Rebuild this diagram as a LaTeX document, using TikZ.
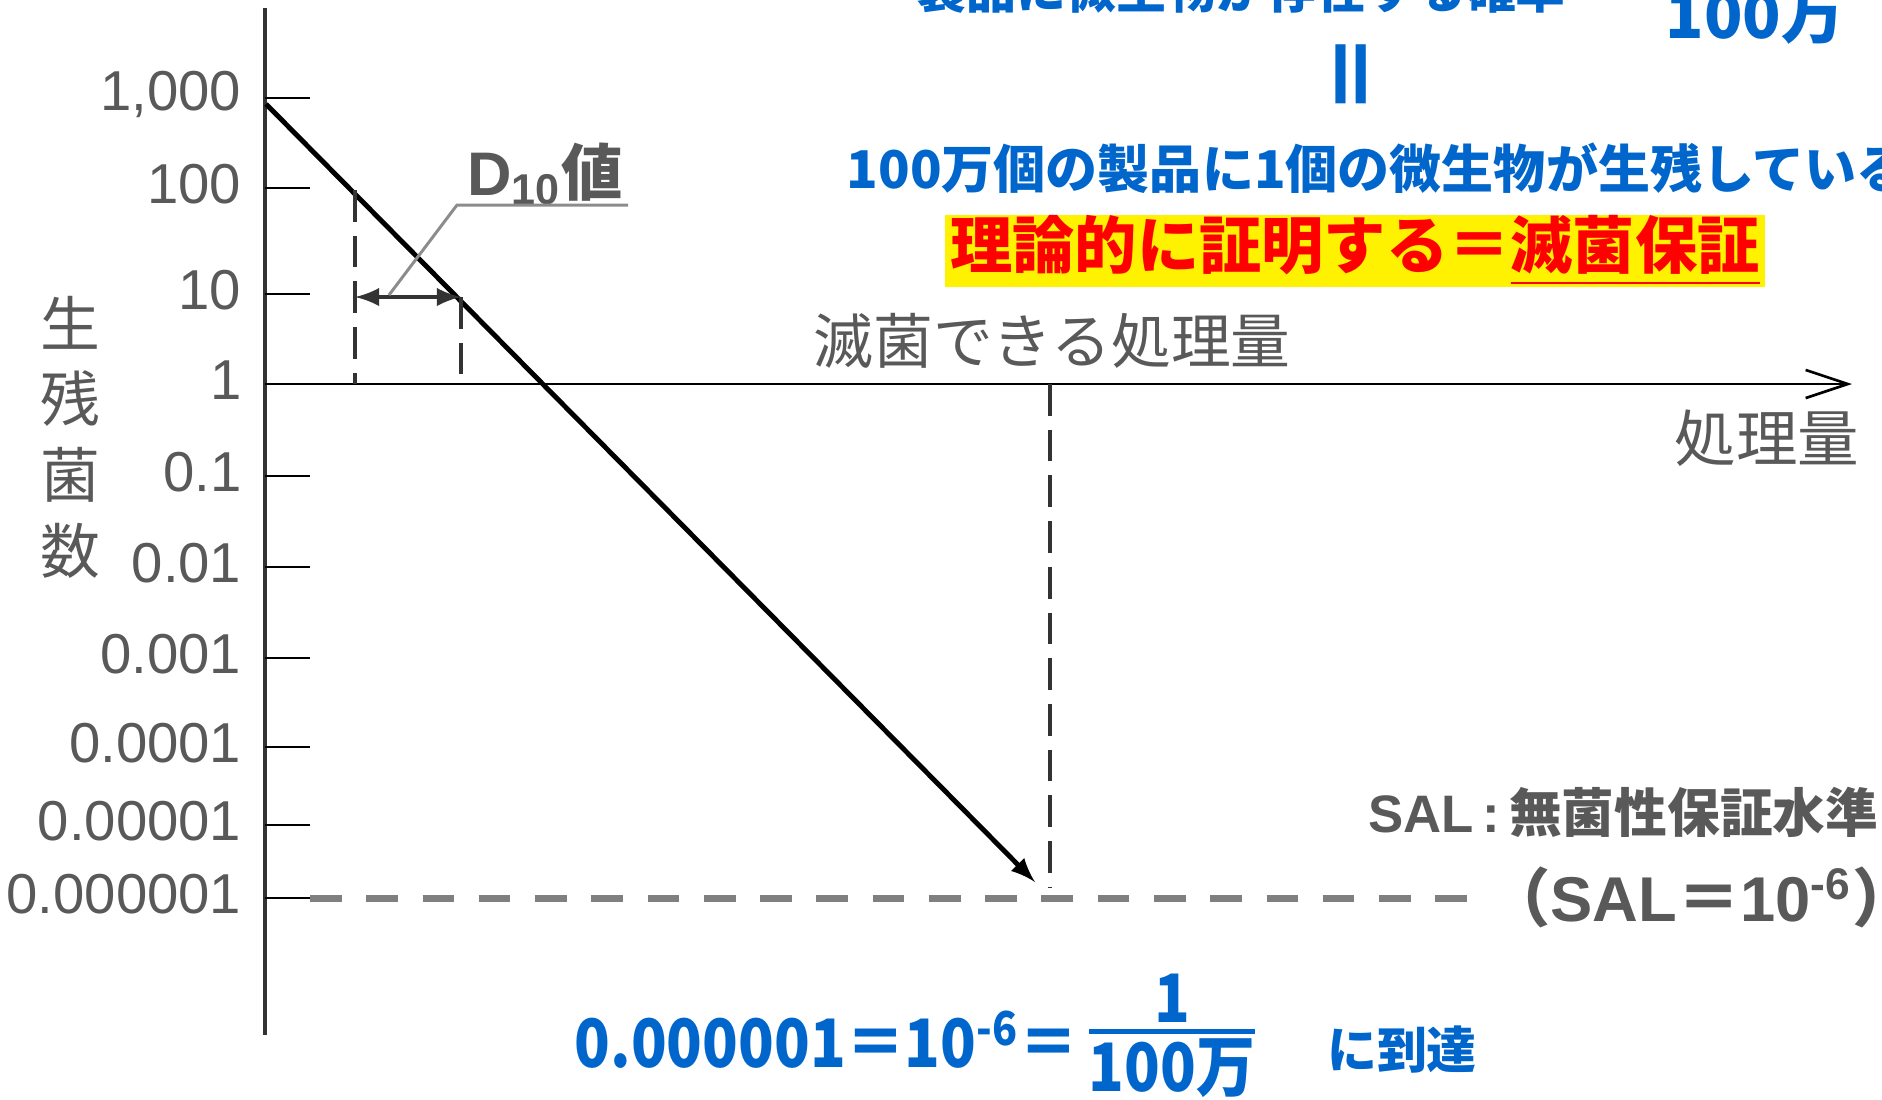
\documentclass[tikz,border=0pt]{standalone}
\usepackage{amsmath}
\usepackage{fontspec}
\setmainfont{Liberation Sans}
\newfontfamily\jpfont{Noto Sans CJK JP}
\newfontfamily\jpcond{Noto Sans CJK JP}[FakeStretch=0.88]
\usepackage{tikz}
\usetikzlibrary{calc,arrows,arrows.meta}

\definecolor{txtgray}{HTML}{595959}
\definecolor{axisgray}{HTML}{333333}
\definecolor{salgray}{HTML}{7F7F7F}
\definecolor{leadgray}{HTML}{8C8C8C}
\definecolor{jpblue}{HTML}{0066CC}

\tikzset{
    ticklab/.style={anchor=east,inner sep=0pt,text=txtgray,font=\fontsize{16pt}{18pt}\selectfont},
    jplab/.style={inner sep=0pt,text=txtgray,font=\jpfont\fontsize{17pt}{20pt}\selectfont},
    bluelab/.style={inner sep=0pt,text=jpblue,font=\jpfont\bfseries\fontsize{14.2pt}{17pt}\selectfont},
    formula/.style={inner sep=0pt,text=jpblue,font=\jpcond\bfseries\fontsize{19pt}{22pt}\selectfont},
    dashline/.style={axisgray,line width=1.1pt,dash pattern=on 9pt off 4pt},
}

\begin{document}
\begin{tikzpicture}[x=0.01cm,y=-0.01cm]
    \useasboundingbox (0,0) rectangle (1882,1099);
    % axes
    \coordinate (yTop) at (265,8);
    \coordinate (yBot) at (265,1035);
    \coordinate (origin) at (265,384);
    \coordinate (xEnd) at (1852,384);
    \draw[axisgray,line width=1.15pt] (yTop) -- (yBot);
    \draw[line width=0.75pt,-{Straight Barb[length=12pt,width=8pt]}] (origin) -- (xEnd);
    \foreach \y/\lab in {98/{1,000},188/100,294/10,384/1,476/0.1,567/0.01,658/0.001,747/0.0001,825/0.00001,898/0.000001}
    {
        \draw[line width=0.6pt] (265,\y) -- (310,\y);
        \node[ticklab] (tick\y) at (242,\y-4) {\lab};
    }
    \node[jplab,align=center,font=\jpfont\fontsize{17pt}{21.5pt}\selectfont] (ylab) at (70,437) {生\\残\\菌\\数};
    \node[jplab,font=\jpfont\fontsize{17.5pt}{20pt}\selectfont] (xlab) at (1767,438) {処理量};

    % SAL level
    \coordinate (salL) at (310,898);
    \coordinate (salR) at (1488,898);
    \draw[salgray,line width=2pt,dash pattern=on 9pt off 7pt] (salL) -- (salR);

    % survivor line
    \coordinate (lineStart) at (266,104);
    \coordinate (lineEnd) at (1035,882);
    \draw[line width=1.4pt,-latex] (lineStart) -- (lineEnd);

    % D10
    \coordinate (d1top) at (355,190);
    \coordinate (d1bot) at (355,384);
    \coordinate (d2top) at (461,297);
    \coordinate (d2bot) at (461,384);
    \draw[dashline] (d1top) -- (d1bot);
    \draw[dashline] (d2top) -- (d2bot);
    \draw[axisgray,line width=1.35pt,latex-latex] (d1top |- 0,297) -- (d2top);
    \node[inner sep=0pt,text=txtgray,font=\bfseries\fontsize{17.5pt}{20pt}\selectfont] (dten) at (545,174) {D\textsubscript{10}{\jpfont 値}};
    \coordinate (lead1) at (389,295);
    \coordinate (lead2) at (457,205);
    \coordinate (lead3) at (628,205);
    \draw[leadgray,line width=0.85pt] (lead1) -- (lead2) -- (lead3);

    % dose to SAL
    \coordinate (vTop) at (1050,384);
    \coordinate (vBot) at (1050,888);
    \draw[dashline] (vTop) -- (vBot);
    \node[jplab] (dose) at (1052,341) {滅菌できる処理量};

    % texts at the top
    \node[bluelab,anchor=base west] (probtop) at (916,8) {製品に微生物が存在する確率};
    \node[bluelab,anchor=base,font=\jpfont\bfseries\fontsize{18pt}{20pt}\selectfont] (mantop) at (1755,38) {100万};
    \node[bluelab,rotate=90,font=\jpfont\bfseries\fontsize{24pt}{27pt}\selectfont] (eqv) at (1360,74) {＝};
    \node[bluelab,anchor=west,font=\jpfont\bfseries\fontsize{14.8pt}{17pt}\selectfont] (prob) at (846,168) {100万個の製品に1個の微生物が生残している};
    \node[fill=yellow,text=red,inner sep=0pt,minimum width=82mm,minimum height=6.9mm,font=\jpfont\bfseries\fontsize{17.7pt}{20pt}\selectfont] (proof) at (1355,251) {理論的に証明する＝\underline{滅菌保証}};

    % SAL text
    \node[anchor=east,inner sep=0pt,text=txtgray,font=\bfseries\fontsize{15pt}{18pt}\selectfont] (sal) at (1879,812) {SAL\,:\,{\jpfont 無菌性保証水準}};
    \node[anchor=east,inner sep=0pt,text=txtgray,font=\bfseries\fontsize{18pt}{20pt}\selectfont] (salval) at (1916,897) {{\jpfont （}SAL{\jpfont ＝}10\textsuperscript{-6}{\jpfont ）}};

    % bottom formula
    \node[formula,anchor=west] (salnum) at (574,1040) {0.000001＝10\textsuperscript{-6}＝};
    \node[formula] (frac) at (1172,1036) {$\genfrac{}{}{1.4pt}{1}{\mbox{1}}{\mbox{100万}}$};
    \node[bluelab] (reach) at (1402,1049) {に到達};
\end{tikzpicture}
\end{document}
